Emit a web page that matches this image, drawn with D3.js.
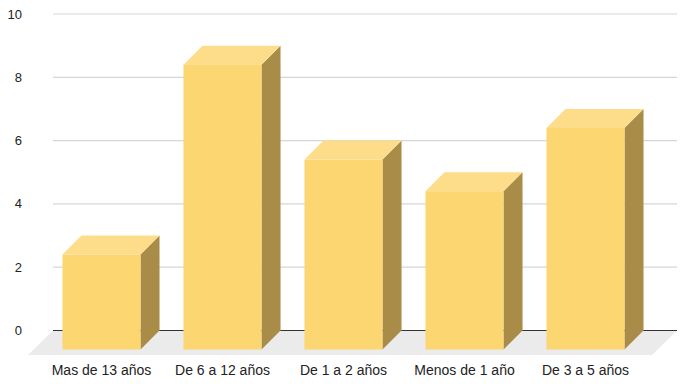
<!DOCTYPE html>
<html>
<head>
<meta charset="utf-8">
<script src="https://cdn.jsdelivr.net/npm/d3@7"></script>
<style>
  body { margin: 0; background: #fff; }
  text { font-family: "Liberation Sans", Arial, sans-serif; font-size: 13px; fill: #222; }
  .cat text { font-size: 14px; }
</style>
</head>
<body>
<div id="chart"></div>
<script>
var categories = ["Mas de 13 años", "De 6 a 12 años", "De 1 a 2 años", "Menos de 1 año", "De 3 a 5 años"]
var values = [3, 9, 6, 5, 7]
var yTicks = [0, 2, 4, 6, 8, 10]

var w = 682, h = 384
// depth offset of the bars (back plane is up-right of front plane)
var dx = 19, dy = -19
var fdx = 25, fdy = -24.5  // floor depth

var svg = d3.select("#chart").append("svg")
  .attr("width", w).attr("height", h)

// y scale on the back plane
var y = d3.scaleLinear().domain([0, 10]).range([330.5, 14])
// x band on the front plane
var x = d3.scaleBand().domain(categories).range([41, 646]).paddingInner(0.355).paddingOuter(0.1775)

var backLeft = 53, backRight = 677

// gridlines
svg.append("g").selectAll("line")
  .data(yTicks.filter(d => d > 0))
  .join("line")
  .attr("x1", backLeft).attr("x2", backRight)
  .attr("y1", d => y(d)).attr("y2", d => y(d))
  .attr("stroke", "#d6d6d6").attr("stroke-width", 1.2)

// tick labels
svg.append("g").selectAll("text")
  .data(yTicks)
  .join("text")
  .attr("x", 22).attr("y", d => y(d))
  .attr("dy", "0.35em")
  .attr("text-anchor", "end")
  .text(d => d)

// floor
var f0 = y(0)
svg.append("path")
  .attr("d", `M${backLeft},${f0} L${backRight},${f0} L${backRight - fdx},${f0 - fdy} L${backLeft - fdx},${f0 - fdy} Z`)
  .attr("fill", "#ebebeb")

svg.append("line")
  .attr("x1", backLeft).attr("x2", backRight)
  .attr("y1", f0).attr("y2", f0)
  .attr("stroke", "#333").attr("stroke-width", 1.2)

// bars
var bars = svg.append("g").selectAll("g")
  .data(categories.map((c, i) => ({ c: c, v: values[i] })))
  .join("g")

var bw = x.bandwidth()
function front(d) {
  return { x0: x(d.c), x1: x(d.c) + bw, yb: y(0) - dy, yt: y(d.v) - dy }
}

// side
bars.append("path")
  .attr("d", d => {
    var f = front(d)
    return `M${f.x1},${f.yt} L${f.x1 + dx},${f.yt + dy} L${f.x1 + dx},${f.yb + dy} L${f.x1},${f.yb} Z`
  })
  .attr("fill", "#a88c48")

// top
bars.append("path")
  .attr("d", d => {
    var f = front(d)
    return `M${f.x0},${f.yt} L${f.x0 + dx},${f.yt + dy} L${f.x1 + dx},${f.yt + dy} L${f.x1},${f.yt} Z`
  })
  .attr("fill", "#fddd8a")

// front
bars.append("rect")
  .attr("x", d => front(d).x0)
  .attr("y", d => front(d).yt)
  .attr("width", bw)
  .attr("height", d => front(d).yb - front(d).yt)
  .attr("fill", "#fcd670")

// category labels
svg.append("g").attr("class", "cat").selectAll("text")
  .data(categories)
  .join("text")
  .attr("x", d => x(d) + bw / 2)
  .attr("y", 375)
  .attr("text-anchor", "middle")
  .text(d => d)
</script>
</body>
</html>
